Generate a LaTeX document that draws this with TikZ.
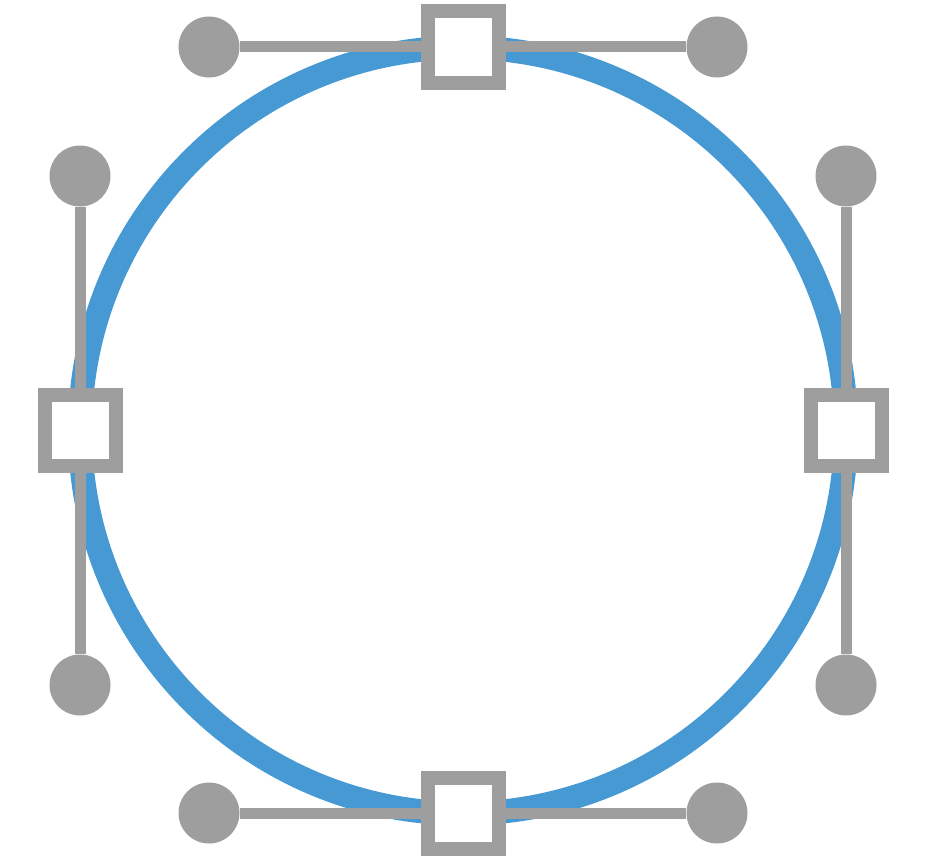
\documentclass[tikz,border=0pt]{standalone}
\usetikzlibrary{backgrounds}
\definecolor{curveblue}{HTML}{4699D3}
\definecolor{handlegray}{HTML}{9E9E9E}
\tikzset{
  anchorpt/.style={rectangle, draw=handlegray, fill=white, line width=14pt, minimum size=71pt, inner sep=0pt},
  knob/.style={circle, fill=handlegray, minimum size=61pt, inner sep=0pt},
  handle/.style={draw=handlegray, line width=11pt},
  ring/.style={circle, draw=curveblue, line width=24pt, minimum size=766pt, inner sep=0pt},
}
\begin{document}
\begin{tikzpicture}[x=1pt, y=-1pt]
  \useasboundingbox (0,0) rectangle (928,859);

  % anchor points on the curve
  \node[anchorpt] (top)    at (463,47)  {};
  \node[anchorpt] (bottom) at (463,813) {};
  \node[anchorpt] (left)   at (80,430)  {};
  \node[anchorpt] (right)  at (846,430) {};

  % control handles
  \node[knob] (topL)    at (209,47)  {};
  \node[knob] (topR)    at (717,47)  {};
  \node[knob] (bottomL) at (209,813) {};
  \node[knob] (bottomR) at (717,813) {};
  \node[knob] (leftT)   at (80,176)  {};
  \node[knob] (leftB)   at (80,685)  {};
  \node[knob] (rightT)  at (846,176) {};
  \node[knob] (rightB)  at (846,685) {};

  \begin{pgfonlayer}{background}
    \node[ring] (curve) at (463,430.5) {};
    \draw[handle] (topL) -- (top) -- (topR);
    \draw[handle] (bottomL) -- (bottom) -- (bottomR);
    \draw[handle] (leftT) -- (left) -- (leftB);
    \draw[handle] (rightT) -- (right) -- (rightB);
  \end{pgfonlayer}
\end{tikzpicture}
\end{document}
